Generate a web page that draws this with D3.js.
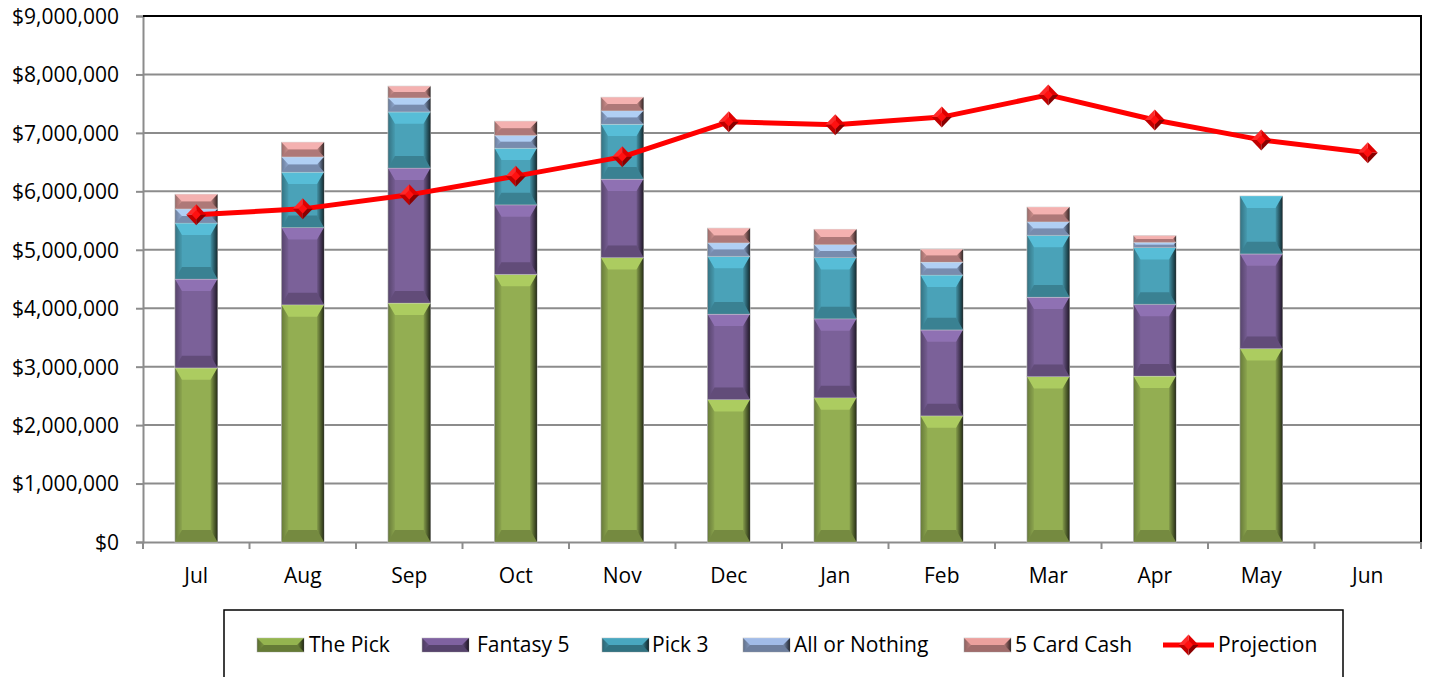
<!DOCTYPE html>
<html>
<head>
<meta charset="utf-8">
<script src="https://cdn.jsdelivr.net/npm/d3@7"></script>
<style>
  html, body { margin: 0; padding: 0; background: #fff; }
  svg { display: block; }
  text { font-family: "Open Sans", "Noto Sans", sans-serif; fill: #000; }
</style>
</head>
<body>
<svg id="chart" width="1430" height="677"></svg>
<script>
const months = ["Jul","Aug","Sep","Oct","Nov","Dec","Jan","Feb","Mar","Apr","May","Jun"];
const thePick     = [2980000,4060000,4090000,4580000,4870000,2440000,2470000,2160000,2830000,2840000,3310000,0];
const fantasy5    = [1520000,1320000,2310000,1190000,1340000,1460000,1350000,1470000,1360000,1230000,1620000,0];
const pick3       = [ 960000, 950000, 960000, 970000, 940000, 990000,1050000, 940000,1060000, 970000, 990000,0];
const allOrNothing= [ 240000, 260000, 240000, 220000, 230000, 230000, 220000, 220000, 230000,  90000,      0,0];
const fiveCardCash= [ 250000, 250000, 200000, 240000, 230000, 250000, 260000, 220000, 250000, 110000,      0,0];
const projection  = [5600000,5700000,5940000,6260000,6590000,7190000,7140000,7270000,7650000,7220000,6880000,6660000];
const yTicks = [0,1000000,2000000,3000000,4000000,5000000,6000000,7000000,8000000,9000000];
const seriesNames = ["The Pick","Fantasy 5","Pick 3","All or Nothing","5 Card Cash"];
const seriesColors = ["#93ae52","#7b6199","#4aa2b8","#97b1db","#db9896"];
const legendColors = ["#7f9a44","#6d5489","#3f8fa3","#8aa0c6","#c98987"];

(function () {
const svg = d3.select("#chart");
const pl = 143, pr = 1421, pt = 16, pb = 542;

const x = d3.scaleBand().domain(months).range([pl, pr]).paddingInner(0.6).paddingOuter(0.3);
const y = d3.scaleLinear().domain([0, 9000000]).range([pb, pt]);

const defs = svg.append("defs");
const rg = defs.append("linearGradient").attr("id","sideShade").attr("x1","0").attr("x2","1").attr("y1","0").attr("y2","0");
rg.append("stop").attr("offset","0").attr("stop-color","#000").attr("stop-opacity",0.1);
rg.append("stop").attr("offset","1").attr("stop-color","#000").attr("stop-opacity",0.75);
const lg = defs.append("linearGradient").attr("id","leftShade").attr("x1","0").attr("x2","1").attr("y1","0").attr("y2","0");
lg.append("stop").attr("offset","0").attr("stop-color","#000").attr("stop-opacity",0.3);
lg.append("stop").attr("offset","1").attr("stop-color","#000").attr("stop-opacity",0.05);

// gridlines
svg.append("g").selectAll("line").data(yTicks.filter(d => d > 0 && d < 9000000)).join("line")
  .attr("x1", pl).attr("x2", pr).attr("y1", d => y(d)).attr("y2", d => y(d))
  .attr("stroke", "#8c8c8c").attr("stroke-width", 2);

// y axis
const yAxis = d3.axisLeft(y).tickValues(yTicks).tickSize(7).tickPadding(17)
  .tickFormat(d => "$" + d3.format(",")(d));
const gy = svg.append("g").attr("transform", `translate(${pl},0)`).call(yAxis);
gy.select(".domain").attr("stroke", "#8c8c8c").attr("stroke-width", 2);
gy.selectAll(".tick line").attr("stroke", "#8c8c8c").attr("stroke-width", 2);
gy.selectAll(".tick text").attr("font-size", 21).attr("dy", "0.35em").style("font-family", "'Open Sans', sans-serif");

// x axis
const xAxis = d3.axisBottom(x).tickSize(0).tickPadding(26);
const gx = svg.append("g").attr("transform", `translate(0,${pb})`).call(xAxis);
gx.select(".domain").attr("stroke", "#8c8c8c").attr("stroke-width", 2);
gx.selectAll(".tick text").attr("font-size", 21).style("font-family", "'Open Sans', sans-serif");
const step = x.step();
svg.append("g").selectAll("line").data(d3.range(months.length + 1)).join("line")
  .attr("x1", i => pl + i * step).attr("x2", i => pl + i * step)
  .attr("y1", pb).attr("y2", pb + 7)
  .attr("stroke", "#8c8c8c").attr("stroke-width", 2);

// top and right borders
svg.append("line").attr("x1", pl).attr("x2", pr + 1).attr("y1", pt).attr("y2", pt).attr("stroke", "#000").attr("stroke-width", 2);
svg.append("line").attr("x1", pr).attr("x2", pr).attr("y1", pt).attr("y2", pb).attr("stroke", "#000").attr("stroke-width", 2);

// stacked bars
const rows = months.map((m, i) => ({ month: m, s0: thePick[i], s1: fantasy5[i], s2: pick3[i], s3: allOrNothing[i], s4: fiveCardCash[i] }));
const stack = d3.stack().keys(["s0","s1","s2","s3","s4"])(rows);

function bevel(g, x0, y0, w, h, color) {
  if (h <= 0.5) return;
  const b = Math.min(12, h / 2), s = Math.min(7, h / 2);
  g.append("rect").attr("x", x0).attr("y", y0).attr("width", w).attr("height", h).attr("fill", color)
    .attr("stroke", "#d0d0d0").attr("stroke-width", 0.8);
  g.append("polygon").attr("points", [[x0,y0],[x0+w,y0],[x0+w-s,y0+b],[x0+s,y0+b]].join(" "))
    .attr("fill", d3.color(color).brighter(0.6)).attr("opacity", 0.7);
  g.append("polygon").attr("points", [[x0,y0+h],[x0+w,y0+h],[x0+w-s,y0+h-b],[x0+s,y0+h-b]].join(" "))
    .attr("fill", d3.color(color).darker(0.9)).attr("opacity", 0.75);
  g.append("polygon").attr("points", [[x0,y0],[x0+s,y0+b],[x0+s,y0+h-b],[x0,y0+h]].join(" "))
    .attr("fill", "url(#leftShade)");
  g.append("polygon").attr("points", [[x0+w,y0],[x0+w-s,y0+b],[x0+w-s,y0+h-b],[x0+w,y0+h]].join(" "))
    .attr("fill", "url(#sideShade)");
}

const barsG = svg.append("g");
stack.forEach((layer, k) => {
  layer.forEach(d => {
    const x0 = x(d.data.month), w = x.bandwidth();
    const yTop = y(d[1]), yBot = y(d[0]);
    bevel(barsG.append("g"), x0, yTop, w, yBot - yTop, seriesColors[k]);
  });
});

// projection line
const line = d3.line().x((d, i) => x(months[i]) + x.bandwidth() / 2).y(d => y(d));
svg.append("path").datum(projection).attr("d", line)
  .attr("fill", "none").attr("stroke", "#ff0000").attr("stroke-width", 5).attr("stroke-linejoin", "round");

function diamond(g, cx, cy, rx, ry) {
  g.append("polygon").attr("points", [[cx,cy-ry],[cx,cy],[cx-rx,cy]].join(" ")).attr("fill", "#ff2a2a");
  g.append("polygon").attr("points", [[cx,cy-ry],[cx+rx,cy],[cx,cy]].join(" ")).attr("fill", "#e00000");
  g.append("polygon").attr("points", [[cx-rx,cy],[cx,cy],[cx,cy+ry]].join(" ")).attr("fill", "#c00000");
  g.append("polygon").attr("points", [[cx,cy],[cx+rx,cy],[cx,cy+ry]].join(" ")).attr("fill", "#8a0000");
  g.append("polygon").attr("points", [[cx,cy-ry*0.45],[cx+rx*0.45,cy],[cx,cy+ry*0.45],[cx-rx*0.45,cy]].join(" ")).attr("fill", "#ff1010");
}
const markG = svg.append("g");
projection.forEach((v, i) => diamond(markG, x(months[i]) + x.bandwidth() / 2, y(v), 10, 10.5));

// legend
const lgG = svg.append("g");
lgG.append("rect").attr("x", 224).attr("y", 610).attr("width", 1119).attr("height", 90)
  .attr("fill", "#fff").attr("stroke", "#000").attr("stroke-width", 1.5);
const legendSwatchX = [257, 422, 602, 743, 964];
const legendTextX = [309, 477, 652, 794, 1015];
const ly = 645;
seriesNames.forEach((name, k) => {
  bevel(lgG.append("g"), legendSwatchX[k], ly - 7, 47, 14, legendColors[k]);
  lgG.append("text").attr("x", legendTextX[k]).attr("y", ly).attr("dy", "0.35em")
    .attr("font-size", 21).text(name);
});
lgG.append("line").attr("x1", 1163).attr("x2", 1214).attr("y1", ly).attr("y2", ly)
  .attr("stroke", "#ff0000").attr("stroke-width", 5);
diamond(lgG, 1188.5, ly, 10, 10.5);
lgG.append("text").attr("x", 1218).attr("y", ly).attr("dy", "0.35em").attr("font-size", 21).text("Projection");
})();
</script>
</body>
</html>
